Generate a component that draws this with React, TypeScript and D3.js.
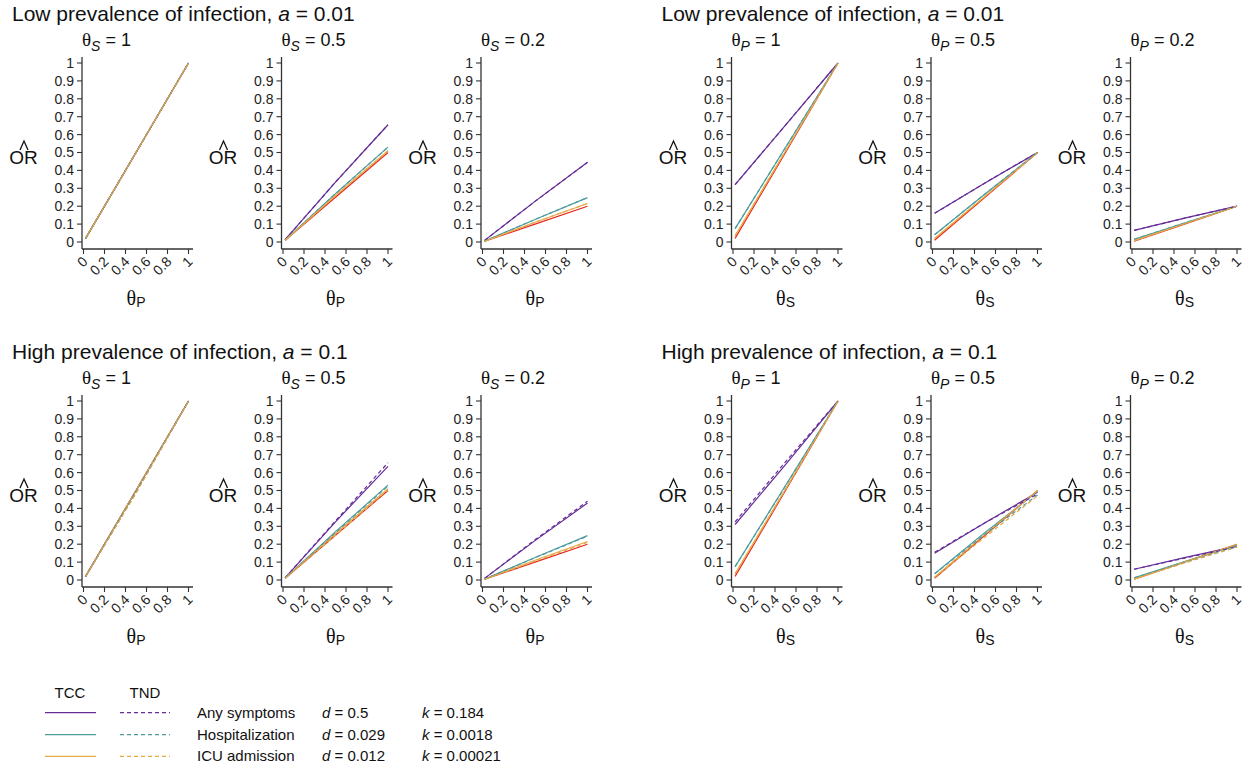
import React from "react";
import * as d3 from "d3";

const thetaGrid = [0.02, 0.5, 1];
const xTicks = [0, 0.2, 0.4, 0.6, 0.8, 1];
const yTicks = [0, 0.1, 0.2, 0.3, 0.4, 0.5, 0.6, 0.7, 0.8, 0.9, 1];

const fixedTheta = ["1", "0.5", "0.2"];
const outcomes = ["Any symptoms", "Hospitalization", "ICU admission"];
const dValues = ["0.5", "0.029", "0.012"];
const kValues = ["0.184", "0.0018", "0.00021"];
const groupTitles = [
  { label: "Low prevalence of infection, ", a: "0.01" },
  { label: "High prevalence of infection, ", a: "0.1" }
];

// true value (red) for each fixed θ
const truth1 = [0.02, 0.5, 1];
const truth05 = [0.01, 0.25, 0.5];
const truth02 = [0.004, 0.1, 0.2];

// [any symptoms, hospitalization, ICU] — low prevalence, θS fixed
const lowTccS1 = [[0.02, 0.5, 1], [0.02, 0.5, 1], [0.02, 0.5, 1]];
const lowTndS1 = [[0.02, 0.5, 1], [0.02, 0.5, 1], [0.02, 0.5, 1]];
const lowTccS05 = [[0.013, 0.335, 0.655], [0.01, 0.27, 0.53], [0.01, 0.26, 0.51]];
const lowTndS05 = [[0.013, 0.335, 0.655], [0.01, 0.27, 0.53], [0.01, 0.26, 0.51]];
const lowTccS02 = [[0.009, 0.227, 0.445], [0.005, 0.126, 0.248], [0.004, 0.11, 0.215]];
const lowTndS02 = [[0.009, 0.227, 0.445], [0.005, 0.126, 0.248], [0.004, 0.11, 0.215]];
// low prevalence, θP fixed
const lowTccP1 = [[0.32, 0.653, 1], [0.075, 0.528, 1], [0.035, 0.508, 1]];
const lowTndP1 = [[0.32, 0.653, 1], [0.075, 0.528, 1], [0.035, 0.508, 1]];
const lowTccP05 = [[0.16, 0.33, 0.5], [0.04, 0.268, 0.5], [0.02, 0.255, 0.5]];
const lowTndP05 = [[0.16, 0.33, 0.5], [0.04, 0.268, 0.5], [0.02, 0.255, 0.5]];
const lowTccP02 = [[0.065, 0.133, 0.2], [0.015, 0.106, 0.2], [0.008, 0.102, 0.2]];
const lowTndP02 = [[0.065, 0.133, 0.2], [0.015, 0.106, 0.2], [0.008, 0.102, 0.2]];
// high prevalence, θS fixed
const highTccS1 = [[0.02, 0.5, 1], [0.02, 0.5, 1], [0.02, 0.5, 1]];
const highTndS1 = [[0.02, 0.49, 1], [0.02, 0.49, 1], [0.02, 0.485, 1]];
const highTccS05 = [[0.012, 0.325, 0.635], [0.01, 0.27, 0.53], [0.01, 0.26, 0.51]];
const highTndS05 = [[0.012, 0.33, 0.655], [0.01, 0.265, 0.525], [0.01, 0.25, 0.505]];
const highTccS02 = [[0.009, 0.22, 0.43], [0.005, 0.126, 0.248], [0.004, 0.11, 0.215]];
const highTndS02 = [[0.009, 0.225, 0.44], [0.005, 0.124, 0.245], [0.004, 0.105, 0.21]];
// high prevalence, θP fixed
const highTccP1 = [[0.31, 0.645, 1], [0.075, 0.528, 1], [0.035, 0.508, 1]];
const highTndP1 = [[0.325, 0.66, 1], [0.075, 0.525, 1], [0.035, 0.505, 1]];
const highTccP05 = [[0.15, 0.32, 0.49], [0.035, 0.265, 0.495], [0.015, 0.255, 0.5]];
const highTndP05 = [[0.155, 0.32, 0.48], [0.035, 0.255, 0.475], [0.015, 0.24, 0.47]];
const highTccP02 = [[0.06, 0.125, 0.19], [0.012, 0.103, 0.195], [0.005, 0.1, 0.2]];
const highTndP02 = [[0.06, 0.122, 0.185], [0.012, 0.098, 0.185], [0.005, 0.095, 0.185]];

const COLORS = ["#652d98", "#4f9c9c", "#e3aa45"];
const TRUTH_COLOR = "#e8251f";
const SANS = "'Liberation Sans', Arial, Helvetica, sans-serif";
const SERIF = "'Liberation Serif', 'DejaVu Serif', serif";
const AXIS = "#333";

const truths = [truth1, truth05, truth02];
const rows = [
  {
    tcc: [[lowTccS1, lowTccS05, lowTccS02], [lowTccP1, lowTccP05, lowTccP02]],
    tnd: [[lowTndS1, lowTndS05, lowTndS02], [lowTndP1, lowTndP05, lowTndP02]]
  },
  {
    tcc: [[highTccS1, highTccS05, highTccS02], [highTccP1, highTccP05, highTccP02]],
    tnd: [[highTndS1, highTndS05, highTndS02], [highTndP1, highTndP05, highTndP02]]
  }
];

const ROW_DY = 338;
const GROUP_DX = 649.5;
const PANEL_DX = 199.5;

function Panel({ ax, oy, fixedVar, xVar, fixed, tcc, tnd, truth }) {
  const x = d3.scaleLinear().domain([0, 1]).range([ax + 1.5, ax + 106.5]);
  const y = d3.scaleLinear().domain([0, 1]).range([oy + 242, oy + 63]);
  const line = d3
    .line<number>()
    .x((_, i) => x(thetaGrid[i]))
    .y((d) => y(d));
  const fmt = d3.format("~g");
  const hx = ax - 58;
  const hy = oy + 141;

  return (
    <g>
      {/* subtitle */}
      <text x={ax} y={oy + 46} fill="#111">
        <tspan fontFamily={SERIF} fontSize={19}>θ</tspan>
        <tspan fontFamily={SANS} fontStyle="italic" fontSize={14} dy={4.5}>{fixedVar}</tspan>
        <tspan fontFamily={SANS} fontSize={18} dy={-4.5}>{" = " + fixed}</tspan>
      </text>

      {/* y label with hat */}
      <text x={ax - 58.5} y={oy + 164} fontFamily={SANS} fontSize={19} textAnchor="middle" fill="#111">OR</text>
      <path
        d={`M${hx - 4},${hy + 9}L${hx},${hy}L${hx + 4},${hy + 9}`}
        fill="none"
        stroke="#111"
        strokeWidth={1.3}
      />

      {/* axes */}
      <line x1={ax} x2={ax} y1={oy + 57} y2={oy + 249} stroke={AXIS} strokeWidth={1.3} />
      <line x1={ax} x2={ax + 111} y1={oy + 249} y2={oy + 249} stroke={AXIS} strokeWidth={1.3} />
      {yTicks.map((t) => (
        <g key={"y" + t}>
          <line x1={ax - 5} x2={ax} y1={y(t)} y2={y(t)} stroke={AXIS} strokeWidth={1.1} />
          <text x={ax - 8} y={y(t)} dy="0.35em" textAnchor="end" fontFamily={SANS} fontSize={14} fill="#222">
            {fmt(t)}
          </text>
        </g>
      ))}
      {xTicks.map((t) => (
        <g key={"x" + t}>
          <line x1={x(t)} x2={x(t)} y1={oy + 249} y2={oy + 254} stroke={AXIS} strokeWidth={1.1} />
          <text
            transform={`translate(${x(t) + 1.5},${oy + 259}) rotate(-45)`}
            dy="0.35em"
            textAnchor="end"
            fontFamily={SANS}
            fontSize={14}
            fill="#222"
          >
            {fmt(t)}
          </text>
        </g>
      ))}

      {/* x label */}
      <text x={x(0.5)} y={oy + 305} textAnchor="middle" fill="#111">
        <tspan fontFamily={SERIF} fontSize={20}>θ</tspan>
        <tspan fontFamily={SANS} fontSize={14} dy={2}>{xVar}</tspan>
      </text>

      {/* curves */}
      <path d={line(truth)} fill="none" stroke={TRUTH_COLOR} strokeWidth={1.2} />
      {tcc.map((s, i) => (
        <path key={"tcc" + i} d={line(s)} fill="none" stroke={COLORS[i]} strokeWidth={1.2} />
      ))}
      {tnd.map((s, i) => (
        <path key={"tnd" + i} d={line(s)} fill="none" stroke={COLORS[i]} strokeWidth={1.2} strokeDasharray="4,3" />
      ))}
    </g>
  );
}

export default function App() {
  const legendY = [712.7, 734.7, 756.3];
  return (
    <svg width={1243} height={769} style={{ position: "absolute", left: 0, top: 0 }}>
      <rect width={1243} height={769} fill="#fff" />
      {rows.map((row, r) =>
        [0, 1].map((g) => (
          <g key={`${r}-${g}`}>
            <text x={12 + g * GROUP_DX} y={r * ROW_DY + 21} fontFamily={SANS} fontSize={21} fill="#111">
              {groupTitles[r].label}
              <tspan fontStyle="italic">a</tspan>
              {" = " + groupTitles[r].a}
            </text>
            {fixedTheta.map((f, p) => (
              <Panel
                key={p}
                ax={82 + g * GROUP_DX + p * PANEL_DX}
                oy={r * ROW_DY}
                fixedVar={g === 0 ? "S" : "P"}
                xVar={g === 0 ? "P" : "S"}
                fixed={f}
                tcc={row.tcc[g][p]}
                tnd={row.tnd[g][p]}
                truth={truths[p]}
              />
            ))}
          </g>
        ))
      )}

      {/* legend */}
      <g fontFamily={SANS} fontSize={15} fill="#111">
        <text x={70} y={698} textAnchor="middle">TCC</text>
        <text x={145} y={698} textAnchor="middle">TND</text>
        {outcomes.map((o, i) => (
          <g key={o}>
            <line x1={45} x2={96} y1={legendY[i]} y2={legendY[i]} stroke={COLORS[i]} strokeWidth={1.2} />
            <line x1={120} x2={170} y1={legendY[i]} y2={legendY[i]} stroke={COLORS[i]} strokeWidth={1.2} strokeDasharray="4,3" />
            <text x={197} y={legendY[i] + 5}>{o}</text>
            <text x={322} y={legendY[i] + 5}>
              <tspan fontStyle="italic">d</tspan>
              {" = " + dValues[i]}
            </text>
            <text x={422} y={legendY[i] + 5}>
              <tspan fontStyle="italic">k</tspan>
              {" = " + kValues[i]}
            </text>
          </g>
        ))}
      </g>
    </svg>
  );
}
